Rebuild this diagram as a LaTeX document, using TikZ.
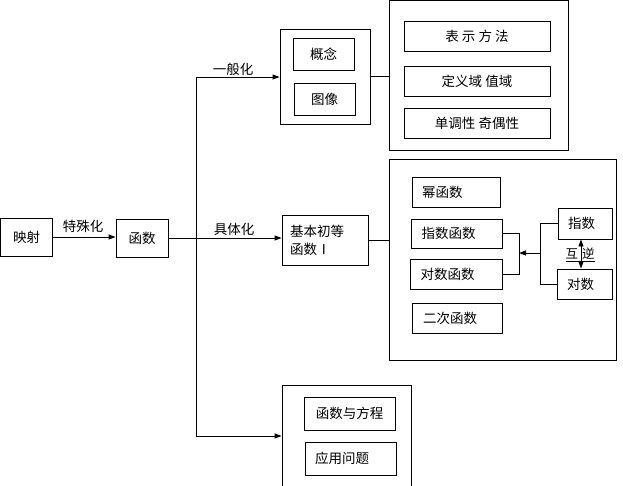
\documentclass[tikz,border=0pt]{standalone}
\usepackage{fontspec}
\setmainfont{Noto Sans CJK SC}
\usetikzlibrary{arrows.meta}
\begin{document}
\begin{tikzpicture}[x=1pt,y=-1pt,line width=0.9pt,
  box/.style={draw, line width=0.9pt, inner sep=0pt, font=\fontsize{13.5}{18}\selectfont},
  lbox/.style={box, inner xsep=10pt, text width=#1, align=left},
  lbl/.style={inner sep=0pt, font=\fontsize{13.5}{16}\selectfont},
  arr/.style={-{Triangle[length=7pt,width=5pt]}},
  darr/.style={{Triangle[length=7pt,width=5pt]}-{Triangle[length=7pt,width=5pt]}}]
\clip (0,0) rectangle (623,486);
% left part
\node[box, minimum width=52pt, minimum height=38pt] (ys) at (26.5,237) {映射};
\node[box, minimum width=52pt, minimum height=38pt] (hs) at (142,238) {函数};
% top group
\node[box, minimum width=90pt, minimum height=95pt] (o1) at (325,76.5) {};
\node[box, minimum width=61pt, minimum height=32pt] (gn) at (323.5,54) {概念};
\node[box, minimum width=61pt, minimum height=32pt] (tx) at (324.5,99) {图像};
\node[box, minimum width=179pt, minimum height=150pt] (b1) at (478.5,75.5) {};
\node[box, minimum width=146pt, minimum height=30pt] (bs) at (477,36) {表 示 方 法};
\node[box, minimum width=146pt, minimum height=30pt] (dy) at (477,81) {定义域 值域};
\node[box, minimum width=146pt, minimum height=30pt] (dd) at (477,123) {单调性 奇偶性};
% middle group
\node[box, minimum width=86pt, minimum height=50pt, text width=70pt, align=left] (jb) at (325,240) {基本初等\\函数Ⅰ};
\node[box, minimum width=227pt, minimum height=201pt] (b2) at (502.5,259.5) {};
\node[lbox=68pt, minimum width=88pt, minimum height=30pt] (mi) at (456,192) {幂函数};
\node[lbox=70pt, minimum width=91pt, minimum height=29pt] (zs) at (456.5,233.5) {指数函数};
\node[lbox=72pt, minimum width=91pt, minimum height=30pt] (ds) at (456.5,274) {对数函数};
\node[lbox=68pt, minimum width=90pt, minimum height=30pt] (ec) at (457,318) {二次函数};
\node[lbox=34pt, minimum width=54pt, minimum height=31pt] (zsr) at (585,223.5) {指数};
\node[lbox=35pt, minimum width=55pt, minimum height=30pt] (dsr) at (584.5,284) {对数};
% bottom group
\node[box, minimum width=129pt, minimum height=115pt] (o3) at (346.5,442.5) {};
\node[box, minimum width=91pt, minimum height=33pt] (hf) at (349.5,413.5) {函数与方程};
\node[lbox=71pt, minimum width=91pt, minimum height=33pt] (yy) at (350.5,458.5) {应用问题};
% labels
\node[lbl] (l1) at (83,226) {特殊化};
\node[lbl] (l2) at (233,69) {一般化};
\node[lbl] (l3) at (234,229) {具体化};
\node[lbl, font=\fontsize{12.5}{14}\selectfont] (l4) at (580,255) {\underline{互\hspace{4pt}逆}};
% coordinates
\coordinate (jt) at (196,77);
\coordinate (jbm) at (196,436);
\coordinate (L) at (519,253);
\coordinate (R) at (540,253);
\coordinate (hx) at (581,254);
% connectors
\draw[arr] (ys.east) -- (hs.west |- ys.east);
\draw[arr] (hs.east) -- (jb.west |- hs.east);
\draw (jt) -- (jbm);
\draw[arr] (jt) -- (o1.west |- jt);
\draw[arr] (jbm) -- (o3.west |- jbm);
\draw (o1.east) -- (b1.west |- o1.east);
\draw (jb.east) -- (b2.west |- jb.east);
\draw (zs.east) -- (zs.east -| L) -- (ds.east -| L) -- (ds.east);
\draw (zsr.west) -- (zsr.west -| R) -- (dsr.west -| R) -- (dsr.west);
\draw[arr] (R) -- (L);
\draw[darr] (zsr.south -| hx) -- (dsr.north -| hx);
\end{tikzpicture}
\end{document}
